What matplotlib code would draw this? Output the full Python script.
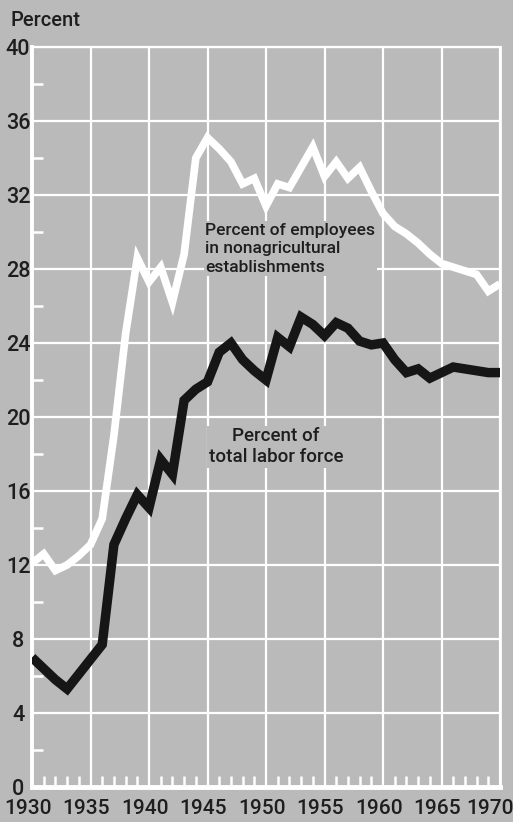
import numpy as np
import matplotlib
matplotlib.use("Agg")
import matplotlib.pyplot as plt
import matplotlib.transforms as transforms

plt.rcParams['font.family'] = ['Roboto', 'Liberation Sans', 'DejaVu Sans']

# years 1930..1970
years = list(range(1930, 1971))

# percent of employees in nonagricultural establishments (white line)
nonag_pct = [12.1, 12.6, 11.7, 12.0, 12.5, 13.1, 14.5, 19.0, 24.5, 28.6,
             27.3, 28.1, 26.2, 28.8, 34.0, 35.1, 34.5, 33.8, 32.6, 32.9,
             31.4, 32.6, 32.4, 33.5, 34.6, 33.0, 33.8, 32.9, 33.5, 32.2,
             31.0, 30.3, 29.9, 29.4, 28.8, 28.3, 28.1, 27.9, 27.7, 26.8,
             27.2]

# percent of total labor force (black line)
labor_pct = [7.0, 6.4, 5.8, 5.3, 6.1, 6.9, 7.7, 13.1, 14.5, 15.8,
             15.1, 17.7, 16.9, 20.9, 21.5, 21.9, 23.5, 24.0, 23.1, 22.5,
             22.0, 24.3, 23.8, 25.4, 25.0, 24.4, 25.1, 24.8, 24.1, 23.9,
             24.0, 23.1, 22.4, 22.6, 22.1, 22.4, 22.7, 22.6, 22.5, 22.4,
             22.4]

year_ticks = list(range(1930, 1971, 5))
pct_ticks = list(range(0, 41, 4))

bg = '#bababa'
txt = '#1e1e1e'
fw = 'medium'

fig = plt.figure(figsize=(5.13, 8.22), dpi=100, facecolor=bg)
ax = fig.add_axes([0.0624, 0.0426, 0.9123, 0.9002], facecolor=bg)

ax.set_xlim(1930, 1970)
ax.set_ylim(0, 40)

ax.set_xticks(year_ticks)
ax.set_yticks(pct_ticks)
ax.set_xticks([y for y in years if y % 5 != 0], minor=True)
ax.set_yticks([v for v in range(2, 40, 4)], minor=True)

ax.grid(True, which='major', color='white', lw=1.6, zorder=1)
ax.set_axisbelow(True)

for side in ['left', 'right', 'top', 'bottom']:
    ax.spines[side].set_color('white')
ax.spines['bottom'].set_linewidth(3.5)
ax.spines['left'].set_linewidth(2.8)
ax.spines['top'].set_linewidth(1.6)
ax.spines['right'].set_linewidth(2.0)

ax.tick_params(which='major', length=0, labelsize=15, labelcolor=txt)
ax.tick_params(axis='y', which='major', pad=10, labelsize=15.5)
ax.tick_params(axis='x', which='major', pad=9)
ax.tick_params(which='minor', direction='in', length=8, width=1.8,
               color='white')
for tl in ax.xaxis.get_minorticklines() + ax.yaxis.get_minorticklines():
    tl.set_color('white')
    tl.set_markeredgecolor('white')

for lab in ax.get_yticklabels():
    lab.set_horizontalalignment('center')
    lab.set_fontweight(fw)

xlabs = ax.get_xticklabels()
for lab in xlabs:
    lab.set_fontweight(fw)
    lab.set_transform(lab.get_transform() +
                      transforms.ScaledTranslation(-3 / 72, 0, fig.dpi_scale_trans))
xlabs[-1].set_transform(xlabs[-1].get_transform() +
                        transforms.ScaledTranslation(-4 / 72, 0, fig.dpi_scale_trans))

ax.plot(years, nonag_pct, color='white', lw=5.5, solid_joinstyle='miter',
        solid_capstyle='butt', zorder=4)
ax.plot(years, labor_pct, color='#161616', lw=6.8, solid_joinstyle='miter',
        solid_capstyle='butt', zorder=5)

ax.text(1944.8, 29.1, "Percent of employees\nin nonagricultural\nestablishments",
        fontsize=12.5, fontweight=fw, color=txt, ha='left', va='center',
        linespacing=1.3, zorder=3,
        bbox=dict(facecolor=bg, edgecolor='none', pad=1))
ax.text(1950.85, 18.4, "Percent of\ntotal labor force",
        fontsize=13.5, fontweight=fw, color=txt, ha='center', va='center',
        linespacing=1.25, zorder=3,
        bbox=dict(facecolor=bg, edgecolor='none', pad=1))

fig.text(10 / 513, 1 - 20 / 822, "Percent", fontsize=14.5, fontweight=fw,
         color=txt, ha='left', va='center')

plt.savefig("out.png", dpi=100, facecolor=bg)
